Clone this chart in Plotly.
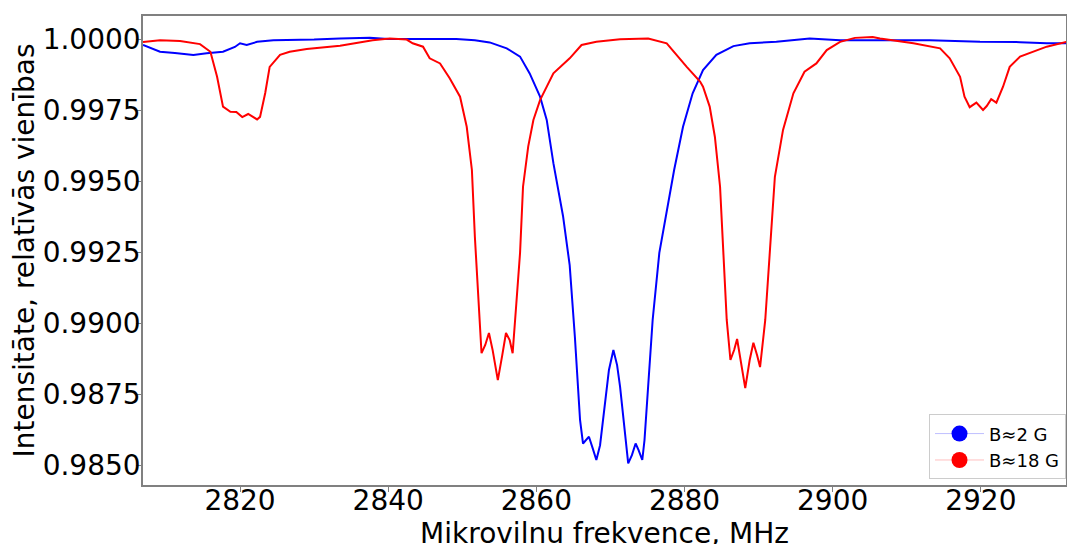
import plotly.graph_objects as go

# Blue series: B ≈ 2 G
blue_f = [2806.9, 2809.2, 2811.2, 2813.7, 2815.5, 2817.7, 2819.3, 2820.0, 2820.9, 2822.3,
          2824.5, 2826.7, 2830.0, 2833.5, 2837.5, 2840.0, 2842.5, 2845.6, 2849.2, 2851.7,
          2853.7, 2856.0, 2857.8, 2859.1, 2860.5, 2861.4, 2862.3, 2863.6, 2864.5, 2865.2,
          2865.9, 2866.3, 2866.7, 2867.1, 2867.6, 2868.1, 2868.6, 2869.3, 2869.8, 2870.4,
          2870.9, 2871.3, 2871.8, 2872.4, 2872.9, 2873.4, 2873.8, 2874.3, 2874.6, 2875.1,
          2875.7, 2876.6, 2877.5, 2878.6, 2879.8, 2881.1, 2882.5, 2884.3, 2886.6, 2888.8,
          2892.4, 2896.9, 2901.0, 2906.4, 2913.1, 2919.9, 2925.3, 2928.9, 2931.6]
blue_v = [0.99979, 0.99955, 0.99951, 0.99944, 0.99950, 0.99955, 0.99972, 0.99985, 0.99979, 0.99990,
          0.99996, 0.99996, 0.99998, 1.00002, 1.00004, 1.00000, 1.00000, 1.00002, 1.00000, 0.99996,
          0.99988, 0.99967, 0.99938, 0.99879, 0.99797, 0.99715, 0.99563, 0.99377, 0.99204, 0.98952,
          0.98659, 0.98576, 0.98588, 0.98600, 0.98560, 0.98518, 0.98570, 0.98718, 0.98835, 0.98905,
          0.98852, 0.98776, 0.98641, 0.98506, 0.98535, 0.98576, 0.98553, 0.98518, 0.98588, 0.98776,
          0.99011, 0.99247, 0.99374, 0.99539, 0.99691, 0.99809, 0.99891, 0.99944, 0.99975, 0.99985,
          0.99990, 1.00002, 0.99996, 0.99996, 0.99996, 0.99990, 0.99989, 0.99985, 0.99985]

# Red series: B ≈ 18 G
red_f = [2806.9, 2809.2, 2811.9, 2814.6, 2816.0, 2816.9, 2817.7, 2818.7, 2819.5, 2820.3,
         2821.1, 2822.3, 2822.7, 2823.4, 2824.0, 2825.4, 2826.7, 2829.0, 2833.5, 2837.9,
         2840.2, 2842.5, 2843.3, 2844.7, 2845.6, 2847.0, 2848.3, 2849.7, 2850.6, 2851.3,
         2851.7, 2852.2, 2852.6, 2853.1, 2853.6, 2854.1, 2854.8, 2855.4, 2855.9, 2856.4,
         2856.8, 2857.3, 2857.8, 2858.2, 2858.9, 2859.6, 2860.5, 2862.3, 2863.2, 2864.5,
         2866.1, 2868.1, 2871.3, 2875.1, 2877.6, 2878.9, 2880.3, 2882.1, 2882.5, 2883.4,
         2884.1, 2884.8, 2885.2, 2885.7, 2886.2, 2886.7, 2887.1, 2887.6, 2888.2, 2888.8,
         2889.3, 2889.8, 2890.2, 2890.9, 2891.5, 2892.2, 2893.3, 2894.7, 2896.2, 2897.8,
         2899.2, 2901.0, 2903.0, 2905.4, 2906.4, 2910.9, 2914.5, 2915.8, 2917.2, 2917.8,
         2918.5, 2919.4, 2920.3, 2920.8, 2921.4, 2922.1, 2923.0, 2923.9, 2925.3, 2927.1,
         2928.9, 2931.6]
red_v = [0.99989, 0.99996, 0.99993, 0.99982, 0.99955, 0.99867, 0.99762, 0.99744, 0.99743, 0.99725,
         0.99736, 0.99717, 0.99726, 0.99810, 0.99902, 0.99944, 0.99955, 0.99965, 0.99976, 0.99996,
         1.00002, 0.99998, 0.99985, 0.99973, 0.99932, 0.99914, 0.99862, 0.99797, 0.99691, 0.99539,
         0.99304, 0.99070, 0.98894, 0.98923, 0.98965, 0.98905, 0.98799, 0.98887, 0.98965, 0.98940,
         0.98894, 0.99070, 0.99247, 0.99480, 0.99621, 0.99715, 0.99785, 0.99879, 0.99902, 0.99932,
         0.99979, 0.99990, 0.99999, 1.00002, 0.99985, 0.99944, 0.99902, 0.99850, 0.99832, 0.99762,
         0.99656, 0.99480, 0.99247, 0.99011, 0.98870, 0.98905, 0.98944, 0.98870, 0.98771, 0.98870,
         0.98931, 0.98887, 0.98845, 0.99011, 0.99247, 0.99515, 0.99680, 0.99809, 0.99885, 0.99914,
         0.99961, 0.99990, 1.00004, 1.00007, 1.00002, 0.99985, 0.99967, 0.99932, 0.99867, 0.99797,
         0.99760, 0.99776, 0.99750, 0.99764, 0.99788, 0.99776, 0.99832, 0.99902, 0.99938, 0.99955,
         0.99973, 0.99990]

series_names = ["B≈2 G", "B≈18 G"]
x_ticks = [2820, 2840, 2860, 2880, 2900, 2920]
y_ticks = [0.9850, 0.9875, 0.9900, 0.9925, 0.9950, 0.9975, 1.0000]
x_title = "Mikrovilnu frekvence, MHz"
y_title = "Intensitāte, relatīvās vienības"

FONT = "DejaVu Sans"
FS = 28
fig = go.Figure()
for fx, vy, col, name, lcol in [(blue_f, blue_v, "#0000ff", series_names[0], "rgba(0,0,255,0.25)"),
                                (red_f, red_v, "#ff0000", series_names[1], "rgba(255,0,0,0.25)")]:
    fig.add_trace(go.Scatter(x=fx, y=vy, mode="lines", line=dict(color=col, width=2),
                             showlegend=False, hoverinfo="skip"))
    fig.add_trace(go.Scatter(x=[None], y=[None], mode="lines+markers", name=name,
                             line=dict(color=lcol, width=1),
                             marker=dict(color=col, size=16)))

axis_common = dict(showline=True, linecolor="#808080", linewidth=1.5, mirror=True,
                   ticks="outside", ticklen=5, tickcolor="#808080", showgrid=False,
                   zeroline=False, automargin=False,
                   tickfont=dict(family=FONT, size=FS, color="black"))
fig.update_xaxes(range=[2806.9, 2931.5], tickvals=x_ticks, ticktext=[str(t) for t in x_ticks],
                 ticklabelstandoff=-15,
                 title=dict(text=x_title, font=dict(family=FONT, size=FS, color="black"), standoff=4),
                 **axis_common)
fig.update_yaxes(range=[0.98430, 1.00081], tickvals=y_ticks,
                 ticktext=[f"{t:.4f}" for t in y_ticks],
                 ticklabelstandoff=-10,
                 title=dict(text=y_title, font=dict(family=FONT, size=FS, color="black"), standoff=0),
                 **axis_common)
# Figure is a little taller than the window so the axis title is clipped at the bottom, as in the original
fig.update_layout(
    width=1067, height=560,
    margin=dict(l=143, r=1, t=16, b=75),
    plot_bgcolor="white", paper_bgcolor="white",
    legend=dict(x=1.0, y=0.012, xanchor="right", yanchor="bottom",
                bgcolor="white", bordercolor="#cccccc", borderwidth=1,
                itemwidth=49,
                font=dict(family=FONT, size=18, color="black")),
)
fig.write_html("out.html", config={"displayModeBar": False},
               post_script="document.body.style.margin='0';document.body.style.overflow='hidden';")
